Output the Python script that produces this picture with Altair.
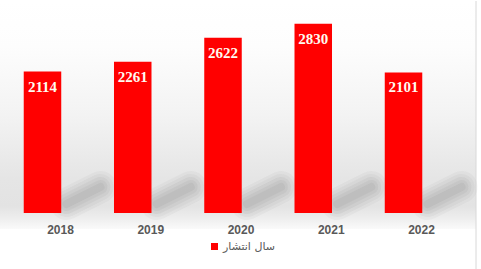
import altair as alt
import pandas as pd

years = ["2018", "2019", "2020", "2021", "2022"]
counts = [2114, 2261, 2622, 2830, 2101]
series_name = "سال انتشار"

df = pd.DataFrame({"year": years, "count": counts, "series": [series_name] * len(years)})

x_scale = alt.Scale(paddingInner=0.5845, paddingOuter=0.263)
x_enc = alt.X("year:N", sort=years, title=None, scale=x_scale, axis=None)
y_enc = alt.Y("count:Q", scale=alt.Scale(domain=[0, 3170], nice=False, zero=True), axis=None)

bg_gradient = alt.LinearGradient(
    gradient="linear",
    x1=0, y1=0, x2=0, y2=1,
    stops=[
        alt.GradientStop(offset=0.0, color="#ffffff"),
        alt.GradientStop(offset=0.2, color="#fdfdfd"),
        alt.GradientStop(offset=0.5, color="#f3f3f3"),
        alt.GradientStop(offset=0.78, color="#e5e5e5"),
        alt.GradientStop(offset=0.9, color="#e3e3e3"),
        alt.GradientStop(offset=0.95, color="#ededed"),
        alt.GradientStop(offset=1.0, color="#fafafa"),
    ],
)

background = alt.Chart(pd.DataFrame({"k": [0]})).mark_rect(color=bg_gradient).encode(
    x=alt.value(0), x2=alt.value(476), y=alt.value(0), y2=alt.value(228)
)

border = alt.Chart(pd.DataFrame({"k": [0]})).mark_rule(color="#d8d8d8", strokeWidth=1).encode(
    x=alt.value(476), y=alt.value(0), y2=alt.value(269)
)

base = alt.Chart(df)

shadow_layers = []
for sw, op in [(32, 0.035), (26, 0.045), (20, 0.05), (14, 0.055), (8, 0.06)]:
    shadow_layers.append(
        base.mark_rule(
            color="#404040", strokeWidth=sw, opacity=op, strokeCap="round",
            xOffset=24, x2Offset=58,
        ).encode(
            x=alt.X("year:N", sort=years, bandPosition=0.5, scale=x_scale, axis=None),
            x2=alt.X2("year:N", bandPosition=0.5),
            y=alt.value(203),
            y2=alt.value(186),
        )
    )

bars = base.mark_bar().encode(
    x=x_enc,
    y=y_enc,
    color=alt.Color(
        "series:N",
        scale=alt.Scale(range=["#ff0000"]),
        legend=alt.Legend(
            title=None,
            orient="none",
            legendX=209,
            legendY=240,
            symbolType="square",
            symbolSize=49,
            symbolStrokeWidth=0,
            labelFont="DejaVu Sans",
            labelFontSize=11,
            labelColor="#595959",
            labelOffset=3,
        ),
    ),
)

labels = base.mark_text(
    color="#fffaf0",
    font="Liberation Serif",
    fontWeight="bold",
    fontSize=15,
    baseline="top",
    dy=8,
).encode(x=x_enc, y=y_enc, text=alt.Text("count:Q"))

year_labels = base.mark_text(
    color="#595959",
    font="Liberation Sans",
    fontWeight="bold",
    fontSize=12,
    baseline="middle",
    dx=18,
).encode(x=x_enc, y=alt.value(229), text=alt.Text("year:N"))

chart = (
    alt.layer(background, border, *shadow_layers, bars, labels, year_labels)
    .properties(width=446, height=212, padding=0, background="white")
    .configure_view(strokeWidth=0)
)

chart.save("out.html", embed_options={"renderer": "svg", "actions": False})
